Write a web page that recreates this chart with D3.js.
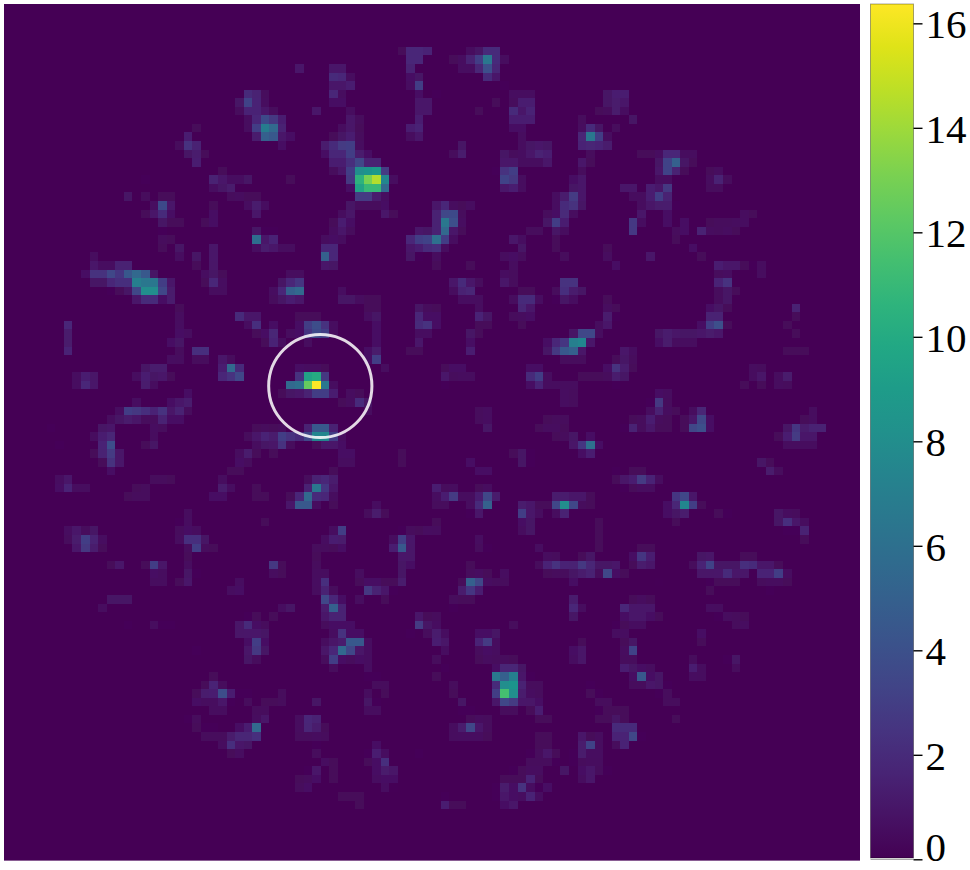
<!DOCTYPE html>
<html><head><meta charset="utf-8">
<script src="https://cdn.jsdelivr.net/npm/d3@7"></script>
<style>html,body{margin:0;padding:0;background:#fff}svg{display:block}</style></head>
<body><svg id="c" width="970" height="870"></svg>
<script>
// Each span is [row, firstColumn, value, value, ...] on a 100 x 100 grid.
const gridSize = 100;
const maxValue = 16.37;
const colorbarTicks = [0, 2, 4, 6, 8, 10, 12, 14, 16];
const circleCell = {col: 36.95, row: 44.6, radius: 6.03};

const cellsNorthWest = [
[5,46,.3,1.8,1.8,1.6],[6,47,1.8,1.8],[7,34,1],[7,38,1,1],[7,47,1.5],
[8,38,2,1.8,.5],[8,47,.7,.8],[9,38,1,1,1.3],[9,47,.6,3],
[10,28,2,1.5,.4],[10,38,1.8,.5],[10,48,.7],
[11,27,.8,3.2,1.6,.5],[11,38,.7,.7],[11,48,1,1],
[12,27,.4,1.6,1.6,1,.4],[12,36,1],[12,40,.5],[12,48,1,1],
[13,28,.5,1.8,3.6,2.6,1.3],[13,40,.9,.4],[13,48,1.3],
[14,22,.3],[14,28,.5,3,6.8,5.5,1.5],[14,39,.5,.9,.3],[14,47,1.3,1.6],
[15,21,1.3],[15,29,1.2,5,4.5,1,.7],[15,38,.3,.8,1.3,.4],[15,47,.5,1],
[16,20,.4,2.4,1.5],[16,32,.7],[16,37,1.2,2,2.8,3,.5],
[17,21,.8,1.2,.3],[17,37,.7,1.8,1.8,3,1.2,.7],
[18,22,1.3],[18,38,1.3,1.3,2.2,3.5,1.5,1.5],
[19,25,.3],[19,38,.4,1,3,8,8.5,8.8,2.8],
[20,16,.2],[20,24,1.5,1,.6,.6,.8],[20,33,.3],[20,40,2.6,10.5,13,14.5,7.5,.6],
[21,24,.6,.8,1.1],[21,40,.7,9.5,11,11,5.5],
[22,14,.8],[22,16,.4],[22,18,.3,.3],[22,26,.4,.5,.3,.3],[22,41,2.8,2.8,1.2,.6],
[23,17,.6,3.6,1],[23,24,.3],[23,28,.6,1.2,.6],[23,40,.8,.4,.4,.4,.7],
[24,16,.3,1,2,.7],[24,24,.7],[24,29,1],[24,39,.5,.9],[24,44,1,.3],
[25,18,.8,.3,.3],[25,23,.3,.7],[25,38,.3,1.4,.7],
[26,18,.2],[26,29,.8,.2,.2],[26,38,.5,1,.4],[26,48,1,1],
[27,18,.4,.3],[27,29,5.8,1,1.6],[27,37,.5,.7,.5],[27,47,1.8,3,3.2],
[28,18,.3],[28,20,.8],[28,24,1],[28,29,.6,1.2,1,.5,.5],[28,37,1.8,1.8],[28,47,1,1.3,1.3],
[29,10,.5],[29,20,.6],[29,22,.8],[29,24,1],[29,37,5,1.8],[29,47,.8,.2],
[30,10,1,.6,.6,1.5,1.5],[30,22,.3],[30,24,.9],[30,37,1,.8],
[31,9,.7,2.3,2.3,3.5,2.5,4.5,5.5,4.5,.8],[31,23,.6,.8,.3],[31,33,.5,.5],
[32,10,.8,.8,1.8,2.2,2.2,7,6.5,6.5,3,1],[32,23,.3,1.8,.6],[32,32,.8,1.8,2.5],
[33,12,.2,.3,.8,3.5,8,8,3.5,1.1],[33,24,.5,.5],[33,31,.6,1.8,5,5.5],[33,39,.6],
[34,15,1,2,2,.7,1.2],[34,31,.4,.8,1.3,1],[34,39,.8,.8,.5,.3,.3]
];

const cellsNorthEast = [
[5,54,.5,.8,2,2],[6,52,.3,.6,1.5,3,6.5,2,.5],[7,53,.6,.6,1.7,4,1.7],[8,56,2,1],
[9,58,.2],[10,50,.2],[10,59,.6,.6,.6],[10,70,.8,1.3,1.3],
[11,57,.3],[11,59,.4,1.3,1.3],[11,70,.8,1.1,1],
[12,55,.3],[12,59,2,1,1.6],[12,69,.3,.4,1.1,.6],
[13,59,1.3,1.3,1.3],[13,67,.4],[13,73,.8],
[14,59,.7,.7],[14,67,.5,2,.8],[14,71,.4],
[15,60,.5],[15,67,1.7,6.5,3,.5],
[16,53,.8],[16,60,.5,.8,1,.8],[16,67,1.6,1.7,1.6,1.2],
[17,52,.4,1.2],[17,58,.8,.4,.6,1,1.5,1.4],[17,68,.4],[17,74,.3,.3,.6,1.8,1.8,.5,.5],
[18,58,1,1,.5,.5,.5,1],[18,67,1,.3],[18,76,.8,3.2,5,.8,.3],
[19,57,.2,2.4,3],[19,67,.4],[19,76,1,3.2,1.5,.3],[19,82,.3,.5],
[20,58,3.2,2.6,.5],[20,66,.7,1],[20,76,.5,.5],[20,82,.5,1.5,.4],
[21,58,1,1.4,.5],[21,66,.8,1],[21,72,1,1],[21,75,1.3,1,2.6],[21,82,.4,.4],
[22,64,.6,1.2,2.8,1],[22,73,.5,.5,1.4,3,1.5],
[23,50,1.0,1.8,.5,.3,.6],[23,64,.6,2,2.3,.8],[23,74,.5,.9,1.1,1.2,.2],
[24,50,1.5,3.5,3.6,.4],[24,63,.4,.7,1.9,.5],[24,74,1],[24,77,.7],[24,86,.5,.3],
[25,50,1.5,6.5,4,.6],[25,63,.8,3,1.3],[25,73,2.7,.6],[25,77,.7],[25,79,.7],[25,82,.3,.4,.4,.5,.6],
[26,49,.8,1.5,5.5,1,.3],[26,61,.4,.4],[26,64,.8,.5],[26,73,2.7],[26,78,.4,.7],[26,81,1.5,.5,.4,.6,.3],
[27,49,3.2,6,3,.6],[27,59,1,.6],[27,64,.3],[27,78,.3],
[28,49,2,2.2,.5],[28,60,.8],[28,64,.3],[28,70,.3],[28,80,.7],
[29,50,.5],[29,58,.5,.7,.4],[29,65,.4],[29,70,.5],[29,75,1],[29,81,.3],
[30,50,.3],[30,54,.3],[30,59,.5],[30,71,.7],[30,83,1.3,1,1,.3,.2,.5],
[31,58,.6,.4],[31,83,.4,.6],[31,88,.5],
[32,52,1,2,1,.4],[32,58,1,.4],[32,65,2.4,2.4],[32,83,1.6,2.4],
[33,52,.5,1.5,1.7],[33,60,.3,.3],[33,64,.4,2.2,1.2,.8],[33,83,.4,.8,.3],
[34,53,.6,.6,.5],[34,59,.5,2,2,.6],[34,64,.2,.8,.6],[34,70,.3],[34,83,.4,.8]
];

const cellsWest = [
[35,42,.3,.3],[35,20,.3],[35,48,.8,.4],
[36,20,.5],[36,27,2,1,1],[36,34,.3,.3,.3],[36,42,.6,.8],[36,48,1.8,.7,.7],
[37,7,1.8],[37,20,.6],[37,28,.6,2.2],[37,31,.7],[37,34,.7,3,3.8,2.4,.6],[37,43,.7],[37,48,2,2.4,.7],
[38,7,1.1],[38,20,.7,.5],[38,29,.3,.7,1.7],[38,33,.5,.7,2.5,3.7,3,.5],[38,43,.7],[38,48,.6,.6],
[39,7,1.1],[39,19,.7,.8],[39,30,.3,1.6,.5],[39,35,.5],[39,43,.7],[39,48,1],
[40,7,1.6],[40,20,.4],[40,22,2.2,2.2],[40,42,.7,1.1],[40,47,.3,.3],
[41,19,.6,.5],[41,22,.4,.4],[41,25,1,.4],[41,42,.7,3],
[42,16,.8,1.2,1.2],[42,25,1.3,5.5,2],[42,34,.7,.6,.6,.3],[42,44,.5],
[43,8,.6,1.4,.9],[43,15,.6,1.3,.8,1,.3],[43,25,1.8,2.4,3.5],[43,34,2.4,9.5,10,2.6],
[44,8,.6,1.8,1],[44,16,1.2,.5],[44,33,5.5,6,12.5,16.37,6.5,.6],
[45,21,.7],[45,32,.3,.8,1,1.5,3,3,1.3],[45,40,.5,.3],
[46,15,.6],[46,19,.7,1,1.2],[46,39,.3,.5,2,.8],
[47,13,.6,3,2.6,2.2,1.6,2.4,.9,1.5,.4],[47,42,.5],
[48,12,.5,.8,1.1,.9,.4,.4,1.5,.7,.7],
[49,5,.2],[49,11,.8,1],[49,17,.6,.4],[49,29,.3,.4,.3,.4],[49,35,1.5,4.5,4.5,1.5],
[50,10,.5,1.4,1.7],[50,17,.5],[50,28,.4,1,1.6,1.2,3,2.4,2,3.5,7.5,7.5,3,.5],
[51,6,.2],[51,11,1.6,3.8],[51,16,.3,.8],[51,29,.5,.8,.9,2.4,.4],[51,36,.3,1,1,.7],
[52,10,.3,1.5,2.8,.9],[52,27,.5,1.2,.3],[52,31,.3],[52,39,.7,.7],[52,46,.3],
[53,11,.3,2.3,1],[53,27,.7,.4],[53,39,.5,.5],[53,46,.3],
[54,12,.7],[54,26,.3,.3],[54,38,.3],
[55,6,.6,1],[55,17,.4,.4,.3],[55,25,.5],[55,35,.4,1.5,1.8,1.2],
[56,6,.7,1.6,.5,.5],[56,15,.3,.4],[56,25,1.1,.6],[56,29,.3],[56,35,1.5,6.5,2.5,1],
[57,14,.3,.4,.4],[57,24,.7,.7],[57,29,.3,.3],[57,33,.3,1.8,5.5,2,1.8,.5],
[58,33,1,4.5,4.5,.5],[58,38,.3],[58,43,.6],
[59,21,.5],[59,42,.4,1.1,.3],
[60,20,.2,.6],[60,30,.3],
[61,7,.6,1,.4,.8],[61,20,.4,.7,.5],[61,38,.6,3],[61,46,.2,.4,.3,.4],
[62,7,.4,1.1,3,1.5,.6],[62,20,.5,2.2,2.2,.8],[62,37,.6,1.4,1.1],[62,45,.5,3,1],
[63,8,1,2.6,1.2,.3],[63,21,.4,3,.4,.3],[63,36,.4,.4,.3,.7],[63,45,1.4,4.5,.9],
[64,21,.3],[64,36,.3],[64,46,1,.9],
[65,12,.3,1],[65,16,.3,3,.9],[65,21,.5],[65,31,2.6,.3],[65,36,.4],[65,46,.8,.7],
[66,17,.7,.5],[66,21,.8,.2],[66,31,.5,.3],[66,36,.5,.5],[66,41,.5],[66,46,.8]
];

const cellsEast = [
[35,50,.3],[35,55,.5],[35,60,1.7,1],[35,70,.5,.3],[35,82,.7,.8,.3],[35,92,1.5],
[36,50,.7],[36,55,1.6,.8],[36,59,.4,.5,.7],[36,70,1.2,.2],[36,82,1.5,1.5],[36,92,.3],
[37,50,.7],[37,55,.3,.3],[37,60,.3],[37,69,.5,1],[37,81,.7,3,4,.3],[37,91,.3],
[38,54,.8,.3],[38,66,.8,3.5,3.5,.5],[38,76,.8,1.2,.9,.8,.8,1,1.1,1],[38,92,.3],
[39,54,.7],[39,63,.7,1.8,2.5,7,7.5,1],[39,76,.7,1.1,.5,.5,.5],
[40,54,1.3],[40,63,.8,2.6,4.5,5,.9],[40,72,1,.6],[40,91,.3,.3,.3],
[41,65,.4,.4,.4],[41,71,.3,.8,.4],
[42,51,.3,.7,.7],[42,61,.7,.7],[42,70,.7,2.3,1.2,.3],[42,87,.5,.4],
[43,51,1,.4,.5,.5],[43,61,2,3,.5],[43,67,.3,.3],[43,69,.3,.4,1.2,.8],[43,87,.5,.9],[43,90,.5,1.1],
[44,51,.2],[44,61,.7,1.6,.5,.5,.5,.5],[44,71,.2],[44,86,.3],[44,88,.3],[44,90,.5,.4],
[45,65,.6,.4],[45,76,.7,.5],
[46,65,.6,.4],[46,75,.2,2.6,.4],
[47,55,.4,.6],[47,75,.5,1.5,.5,.3],[47,80,.5,1.7],[47,94,.5],
[48,55,.4,.6],[48,63,.3,.4,.4],[48,73,.3,.4,1.3,.4,.3],[48,79,.3,1,3.5,.7],[48,93,.3,.5],
[49,56,.8],[49,62,.3,.5,.5,.3],[49,72,.2,1.5,.4,1,.3,.3],[49,79,.3,3.5,4,.7],[49,91,.8,2.5,1.1,1.5,1.5],
[50,64,.3,.4,.8],[50,68,.7],[50,90,.3,1.4,2.8,1,1],
[51,66,.9,2.5,6,.7],[51,91,.5,.5,.5,.5],
[52,59,.3,.8,.2],[52,67,.7,1.3],
[53,54,.7],[53,60,.8,.2],[53,88,.8,.3],
[54,55,.7,.7],[54,71,.2],[54,73,.3,.3],[54,89,1.1,.4],
[55,71,.3,.9,1.3,2.8,1.6,.5],
[56,50,1.3,.4,.5],[56,55,.3,.5],[56,72,.2,.3,.5,.5],
[57,50,.6,1.4,2.8,.5,.5,1.4,3.5,1.1],[57,64,1.2,1.2,1,1,.3],[57,78,2.5,3.5,1],
[58,50,.4,.4],[58,54,.5,2,5],[58,60,1.2,1,.3],[58,63,.3,3.5,8,3.5,.4,.3],[58,77,.7,1.7,7.5,3,.3],
[59,54,.2,1],[59,60,3,1,.5],[59,64,.5,1.5],[59,77,.7,.8,1.2],[59,83,.3,.2],[59,90,.8,.5,.4],
[60,50,.3],[60,60,.7,.8],[60,69,.3],[60,78,.3],[60,90,.8,2.2,1,.5],
[61,49,.6,.5],[61,60,.5,.8],[61,69,.3],[61,91,.2,.2,1.5],
[62,55,.6],[62,69,.3],[62,93,.3],
[63,55,.4,.2],[63,62,.6],[63,69,.3],[63,74,.3,.3],
[64,63,.5,.4],[64,67,.3,.8],[64,73,.7,2.5,1.4],[64,81,.8,.9],[64,86,.3,.3],
[65,54,.3],[65,62,.4],[65,63,1.6,2.4,1.6,1.5,2.6,1.7,.8,.8,1],[65,73,.3,1.2,1],[65,80,.4,1.6,3.2,.8,.8,.8,2.2,2,1,1,.3],
[66,54,.4,.6,.3],[66,58,.6],[66,63,.3,.4,.4,.8,1.2,1.5,.4,3.5,.7,.3],[66,81,.9,.9,1,2,1,1],[66,88,1.6,1.6,3,.6]
];

const cellsSouthWest = [
[67,17,.5,.5],[67,20,.3,1],[67,27,.6],[67,36,.6,2.2],[67,41,.3,.7,.7,.3,.3,1.2],
[68,26,.6,.7],[68,36,.5,1.5,.4],[68,42,2.6,1.5,1,.2],
[69,12,.8,.8,.8],[69,37,3.5,1.8,.7],[69,41,.5],[69,44,.3],
[70,11,.5],[70,32,.6,.8],[70,37,1.2,5,1.5],
[71,28,.2,.3],[71,31,.3],[71,37,1,1.5,1.5],[71,48,1,.5],
[72,14,.2],[72,17,.5,.2,.2],[72,27,.9,2,.7,.4],[72,37,.4,.7,.7,.7],[72,48,2.8,.8],
[73,27,.9,1,1,.8],[73,38,.6,2.4,.7,.7],[73,47,.2],[73,49,.4],
[74,28,.7,3,.7],[74,37,.5,.9,1.2,4.5,4.5,.6],
[75,22,.2],[75,28,.9,2.6,.8],[75,37,.9,1.8,5.5,3.5,.9,.6],
[76,28,.8,.4],[76,37,.4,3,.7,.4,.7,.6],
[77,38,.4],[77,42,.6],
[78,24,.3],[78,42,.2,.2],
[79,23,.3,1.6,.4],[79,43,.4,.4],
[80,22,.3,1.2,1.3,3.8,1.3,.2,.2],[80,32,.4],[80,42,.5],[80,44,.3],
[81,22,.7,.5,.5,1,.2],[81,28,.4],[81,30,.3,.3,.4],[81,36,.8],[81,42,.8,.2],
[82,24,.5,.5],[82,29,.4,.4],[82,42,.5,.5],
[83,21,.2,.4],[83,29,.5,.9],[83,34,.5,1.8,1.5],
[84,22,.3,.2,.2],[84,27,.7,1.3,5.5],[84,34,.5,1.7,1.2,.3],
[85,23,.4,.4,.4,1.1,1.7,1.7,2.2],[85,34,.4,.4,.5,.4],
[86,25,.5,2.2,1,.8],[86,36,.2],[86,43,.7],
[87,26,.3,.6],[87,36,.4],[87,42,.2,1.3,.6],[87,48,.2],
[88,37,.6,.3],[88,42,.3,.7,2.2],
[89,35,.2,1],[89,38,.3],[89,43,.7,1.1,.9],
[90,34,.3,.4,.7],[90,38,.3],[90,43,.6,.7,.7],
[91,34,.4,.7],[91,44,.6,.1],
[92,39,.3,.3,.3],[93,41,.3]
];

const cellsSouthEast = [
[67,53,.3,5,3.5,.6,.4,.4],[67,66,.7],[67,76,.1],[67,82,.2,.3,.3,.3],[67,88,.4,.5,.5,.3],
[68,53,1.2,2.5,1.3],[68,82,.3],[68,89,.2],
[69,52,.4,.3,.3],[69,66,1.2],[69,73,.3,.5,.3],
[70,52,.2],[70,66,1.8,.5],[70,72,1.8,1,1,1],[70,82,.6,.5],
[71,49,.3,.4],[71,66,.8],[71,72,.7,1,1,.7,.3],[71,83,.2,.5,.4,.3],
[72,50,.6],[72,59,.4],[72,71,.2,.3,.6,.6],[72,85,.4,.6],
[73,50,1.2,.6],[73,55,.7,.7,.8],[73,71,.6,.6],[73,81,.7],
[74,50,1.4,.9],[74,55,1.6,2.8,.5],[74,67,.3],[74,72,.3,.8],[74,81,.3],
[75,51,.6],[75,55,.4,.7,.5],[75,66,.7,.9],[75,72,.5,3.2],
[76,50,.4],[76,55,.3,.5,.4,.4,.3],[76,66,.6,.9],[76,72,.4,.4],[76,80,.4],[76,84,.2,.8],
[77,51,.2],[77,57,.7,1.7,1.7,.8],[77,72,1.3,.8,.7,.5],[77,80,1.4,.5],[77,85,.4],
[78,50,.3],[78,57,6.5,5,7,1,.2],[78,73,.7,4.5,.7,.8],[78,80,.6,.5],
[79,52,.4],[79,57,2,8,8.5,1.5,.4,.4],[79,68,.2],[79,73,.4,.4,1,.8,.2],
[80,52,.3],[80,57,3,11.5,8,1.2,.6,.4],[80,68,.3,.2],[80,76,.2,.4],
[81,53,.8],[81,57,1,3.5,2.8,1,.9,.7],[81,69,.4,.4],[81,77,.4,.4],
[82,53,.2,.2],[82,58,.4,.4],[82,61,.3,1.4],[82,69,.2,.3,.3,.3],
[83,54,.3,.5,.4],[83,62,.3,.3],[83,69,.3,.3,.8,.3],[83,78,.3],
[84,52,.5,1.2,3.5,1,.4],[84,71,2,2,2],
[85,52,.5,.6,.6,.6,.3],[85,62,.3,.3],[85,67,1,.3,.5],[85,71,1.6,1.6,3.5,.2],
[86,62,.3,.3],[86,67,1.2,3.2,.5],[86,71,.4,1.6],
[87,61,.2,.4,1,.3],[87,66,.2,1.1,.6,.6],
[88,61,.4,.4,.4,.2],[88,66,.2,.4,.5,.5],
[89,59,.2,.3,.5,.5],[89,65,.8],[89,67,.7,1,.4,.2],
[90,58,.3,.3,.3,1.6,.3],[90,67,.5,1],
[91,57,.2,1.1,.7,2.4,.6,.2,.7],
[92,51,.2],[92,57,.2,1,.7,.6,1.6,.6],
[93,51,1.3,.3,.3],[93,58,.7,1]
];

const regions = [cellsNorthWest, cellsNorthEast, cellsWest, cellsEast, cellsSouthWest, cellsSouthEast];

const cells = new Map();
regions.forEach(r => r.forEach(([row, col, ...vals]) => vals.forEach((v, i) => cells.set(row + "," + (col + i), {row, col: col + i, v}))));
const data = Array.from(cells.values());

const svg = d3.select("#c");
const x = d3.scaleLinear().domain([0, gridSize]).range([4, 860]);
const y = d3.scaleLinear().domain([0, gridSize]).range([4, 860.5]);
const color = d3.scaleSequential(d3.interpolateViridis).domain([0, maxValue]);

const defs = svg.append("defs");
defs.append("filter").attr("id", "soft").attr("x", 0).attr("y", 0).attr("width", 1).attr("height", 1)
  .append("feGaussianBlur").attr("stdDeviation", 0.7);
defs.append("clipPath").attr("id", "plotClip").append("rect")
  .attr("x", x(0)).attr("y", y(0)).attr("width", x(gridSize) - x(0)).attr("height", y(gridSize) - y(0));

const plot = svg.append("g").attr("clip-path", "url(#plotClip)");
plot.append("rect").attr("x", x(0)).attr("y", y(0))
  .attr("width", x(gridSize) - x(0)).attr("height", y(gridSize) - y(0)).attr("fill", color(0));
const heat = plot.append("g").attr("filter", "url(#soft)").attr("shape-rendering", "crispEdges");
heat.append("rect").attr("x", x(0)).attr("y", y(0))
  .attr("width", x(gridSize) - x(0)).attr("height", y(gridSize) - y(0)).attr("fill", color(0));
heat.selectAll("rect.cell").data(data).enter().append("rect").attr("class", "cell")
  .attr("x", d => x(d.col)).attr("y", d => y(d.row))
  .attr("width", x(1) - x(0)).attr("height", y(1) - y(0))
  .attr("fill", d => color(d.v));

svg.append("circle").attr("cx", x(circleCell.col)).attr("cy", y(circleCell.row))
  .attr("r", x(circleCell.radius) - x(0)).attr("fill", "none")
  .attr("stroke", "#fff").attr("stroke-opacity", 0.85).attr("stroke-width", 3);

// Colour bar
const cbY = d3.scaleLinear().domain([0, maxValue]).range([859.3, 4]);
const cbX = 870.5, cbW = 43;
const grad = defs.append("linearGradient").attr("id", "cbGrad").attr("x1", 0).attr("x2", 0).attr("y1", 1).attr("y2", 0);
d3.range(0, 1.0001, 0.05).forEach(t => grad.append("stop").attr("offset", t).attr("stop-color", d3.interpolateViridis(t)));
svg.append("rect").attr("x", cbX).attr("y", 4).attr("width", cbW).attr("height", 854)
  .attr("fill", "url(#cbGrad)").attr("stroke", "#000").attr("stroke-opacity", 0.35).attr("stroke-width", 1);
svg.append("line").attr("x1", cbX).attr("x2", cbX + cbW).attr("y1", 859.5).attr("y2", 859.5)
  .attr("stroke", "#aaa").attr("stroke-width", 1);

const axis = d3.axisRight(cbY).tickValues(colorbarTicks).tickSize(9).tickPadding(3).tickFormat(d3.format("d"));
const gAxis = svg.append("g").attr("transform", `translate(${cbX + cbW},0)`).call(axis);
gAxis.select(".domain").remove();
gAxis.selectAll("line").attr("stroke", "#000").attr("stroke-width", 1.4);
gAxis.selectAll("text").attr("font-family", "'Liberation Serif','Times New Roman',serif")
  .attr("font-size", 41).attr("fill", "#000").attr("dy", "0.35em");
gAxis.selectAll(".tick").filter(d => d === 0).select("text").attr("y", -13);
</script></body></html>
